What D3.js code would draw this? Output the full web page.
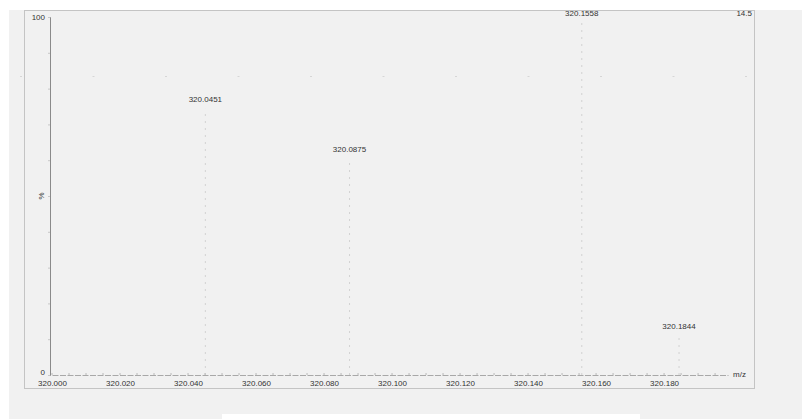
<!DOCTYPE html>
<html><head><meta charset="utf-8">
<script src="https://cdn.jsdelivr.net/npm/d3@7"></script>
<style>
html,body{margin:0;padding:0;background:#fff;}
svg{display:block;font-family:"Liberation Sans",Arial,sans-serif;}
</style></head>
<body>
<svg id="c" width="802" height="419"></svg>
<script>
// ---- data ----
const peakMz = [320.0451, 320.0875, 320.1558, 320.1844];
const peakIntensity = [76, 62, 100, 12.5];
const peakLabels = ["320.0451", "320.0875", "320.1558", "320.1844"];
const xTicks = [320.000, 320.020, 320.040, 320.060, 320.080, 320.100, 320.120, 320.140, 320.160, 320.180];
const yTickLabels = [0, 100];
const xTitle = "m/z";
const yTitle = "%";
const cornerLabel = "14.5";

const svg = d3.select("#c");
// background panel
svg.append("rect").attr("x", 9).attr("y", 10).attr("width", 793).attr("height", 409).attr("fill", "#f1f1f1");
svg.append("rect").attr("x", 222).attr("y", 414).attr("width", 418).attr("height", 5).attr("fill", "#ffffff");
// outer frame
svg.append("rect").attr("x", 24.5).attr("y", 10.5).attr("width", 730).attr("height", 378)
  .attr("fill", "none").attr("stroke", "#c4c4c4").attr("stroke-width", 1);

const x = d3.scaleLinear().domain([320.000, 320.1988]).range([52, 728]);
const y = d3.scaleLinear().domain([0, 100]).range([375, 17]);

// faint grid dots
const gridG = svg.append("g");
d3.range(20, 760, 72.5).forEach(gx => {
  gridG.append("rect").attr("x", gx).attr("y", 76).attr("width", 2).attr("height", 1).attr("fill", "#d6d6d6");
});

// peaks
const peaks = peakMz.map((m, i) => ({m, v: peakIntensity[i], l: peakLabels[i]}));
svg.append("g").selectAll("line").data(peaks).join("line")
  .attr("x1", d => x(d.m)).attr("x2", d => x(d.m))
  .attr("y1", y(0)).attr("y2", d => y(d.v) + 6)
  .attr("stroke", "#d2d2d2").attr("stroke-width", 1).attr("stroke-dasharray", "2,5");
svg.append("g").selectAll("text").data(peaks).join("text")
  .attr("x", d => x(d.m)).attr("y", d => y(d.v) - 1)
  .attr("text-anchor", "middle").attr("font-size", 8).attr("fill", "#333")
  .text(d => d.l);

// x axis
const xAxis = d3.axisBottom(x).tickValues(xTicks).tickFormat(d3.format(".3f")).tickSize(0).tickPadding(5);
const gx = svg.append("g").attr("transform", `translate(0,${y(0)})`).call(xAxis);
gx.select(".domain").attr("stroke", "#a8a8a8").attr("stroke-dasharray", "6,1.5");
gx.selectAll("text").attr("font-size", 8).attr("fill", "#333").attr("font-family", "Liberation Sans, Arial, sans-serif");
// minor ticks on x baseline
svg.append("g").selectAll("line").data(d3.range(320.000, 320.198, 0.005)).join("line")
  .attr("x1", d => x(d)).attr("x2", d => x(d)).attr("y1", y(0) - 2).attr("y2", y(0))
  .attr("stroke", "#b8b8b8");

// y axis
const yAxis = d3.axisLeft(y).tickValues(d3.range(0, 101, 10)).tickSize(2)
  .tickFormat(d => yTickLabels.includes(d) ? d : "");
const gy = svg.append("g").attr("transform", `translate(50,0)`).call(yAxis);
gy.select(".domain").attr("stroke", "#8a8a8a");
gy.selectAll(".tick line").attr("stroke", "#c8c8c8");
gy.selectAll("text").attr("font-size", 8).attr("fill", "#333").attr("font-family", "Liberation Sans, Arial, sans-serif");
gy.selectAll(".tick").filter(d => d === 0).select("text").attr("dy", "-0.05em");

svg.append("text").attr("x", 733).attr("y", y(0) + 2).attr("font-size", 8).attr("fill", "#333").text(xTitle);
svg.append("text").attr("transform", `translate(44,196) rotate(-90)`).attr("text-anchor", "middle")
  .attr("font-size", 8).attr("fill", "#333").text(yTitle);
svg.append("text").attr("x", 752).attr("y", 16).attr("text-anchor", "end").attr("font-size", 8).attr("fill", "#333").text(cornerLabel);
</script>
</body></html>
